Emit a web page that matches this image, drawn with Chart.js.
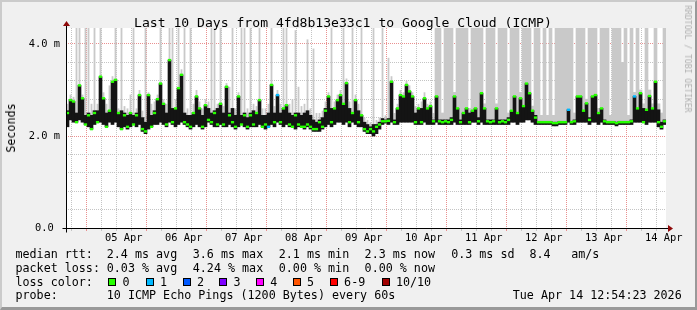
<!DOCTYPE html>
<html>
<head>
<meta charset="utf-8">
<title>Last 10 Days from 4fd8b13e33c1 to Google Cloud (ICMP)</title>
<script src="https://cdn.jsdelivr.net/npm/chart.js@4.4.1/dist/chart.umd.min.js"></script>
<style>
  html, body { margin: 0; padding: 0; background: #f0f0f0; }
  #wrap { position: relative; width: 697px; height: 310px; background: #f0f0f0; overflow: hidden;
          font-family: 'DejaVu Sans Mono', monospace; color: #000; }
  #graph { position: absolute; left: 0; top: 0; }
  #frame { position: absolute; left: 0; top: 0; right: 0; bottom: 0; pointer-events: none;
           border-top: 2px solid #cbcbcb; border-left: 2px solid #cbcbcb;
           border-right: 2px solid #999; border-bottom: 3px solid #999; }
  .t { position: absolute; white-space: pre; font-size: 11.7px; line-height: 14px; }
  #title { position: absolute; left: 134px; top: 15px; font-size: 13.1px; line-height: 15px; white-space: pre; }
  #ylab { position: absolute; left: 10.5px; top: 127.5px; font-size: 11.7px; line-height: 14px; white-space: pre;
          transform: translate(-50%, -50%) rotate(-90deg); }
  #mark { position: absolute; left: 687.5px; top: 59px; font-size: 8.1px; line-height: 10px; white-space: pre;
          color: #b0b0b0; transform: translate(-50%, -50%) rotate(90deg); }
  .box { position: absolute; width: 6px; height: 6px; border: 1px solid #000; }
</style>
</head>
<body>
<div id="wrap">
  <canvas id="graph" width="697" height="310"></canvas>
  <div id="title">Last 10 Days from 4fd8b13e33c1 to Google Cloud (ICMP)</div>
  <div id="ylab">Seconds</div>
  <div id="mark">RRDTOOL / TOBI OETIKER</div>
  <div id="legend"></div>
  <div id="frame"></div>
</div>
<script>
// --- данные (мс), один шаг = 72 минуты, 200 шагов на 10 дней ---
// нижняя граница тёмной полосы
const coreLow = [
  2.2, 2.35, 2.3, 2.3, 2.35, 2.3, 2.25, 2.2, 2.15, 2.25,
  2.3, 2.3, 2.25, 2.2, 2.3, 2.25, 2.3, 2.2, 2.15, 2.2,
  2.15, 2.2, 2.25, 2.2, 2.25, 2.1, 2.05, 2.15, 2.2, 2.25,
  2.25, 2.3, 2.25, 2.2, 2.3, 2.25, 2.2, 2.25, 2.3, 2.25,
  2.2, 2.15, 2.2, 2.25, 2.2, 2.15, 2.2, 2.3, 2.25, 2.2,
  2.2, 2.25, 2.2, 2.2, 2.25, 2.2, 2.15, 2.2, 2.25, 2.2,
  2.15, 2.2, 2.2, 2.2, 2.25, 2.2, 2.15, 2.2, 2.25, 2.2,
  2.3, 2.25, 2.2, 2.25, 2.2, 2.2, 2.15, 2.2, 2.2, 2.15,
  2.2, 2.15, 2.1, 2.1, 2.1, 2.15, 2.2, 2.25, 2.2, 2.25,
  2.3, 2.3, 2.25, 2.3, 2.2, 2.3, 2.25, 2.2, 2.2, 2.1,
  2.05, 2.05, 2.0, 2.05, 2.15, 2.25, 2.28, 2.25, 2.3, 2.25,
  2.25, 2.3, 2.3, 2.3, 2.3, 2.3, 2.25, 2.25, 2.25, 2.3,
  2.25, 2.25, 2.25, 2.3, 2.25, 2.25, 2.25, 2.25, 2.25, 2.3,
  2.25, 2.25, 2.25, 2.25, 2.25, 2.3, 2.3, 2.25, 2.3, 2.25,
  2.25, 2.25, 2.25, 2.25, 2.25, 2.25, 2.25, 2.25, 2.3, 2.3,
  2.25, 2.3, 2.3, 2.35, 2.35, 2.3, 2.25, 2.25, 2.25, 2.25,
  2.25, 2.25, 2.22, 2.22, 2.25, 2.25, 2.25, 2.3, 2.25, 2.25,
  2.3, 2.3, 2.3, 2.3, 2.25, 2.3, 2.3, 2.25, 2.3, 2.25,
  2.25, 2.25, 2.25, 2.22, 2.25, 2.25, 2.25, 2.25, 2.25, 2.3,
  2.3, 2.3, 2.3, 2.25, 2.3, 2.3, 2.3, 2.2, 2.15, 2.25
];
// верх тёмной полосы
const coreHigh = [
  2.55, 2.78, 2.75, 2.5, 3.1, 2.82, 2.45, 2.5, 2.45, 2.55,
  2.55, 3.29, 2.82, 2.5, 2.55, 3.18, 3.22, 2.5, 2.55, 2.5,
  2.45, 2.5, 2.45, 2.5, 2.89, 2.4, 2.3, 2.89, 2.45, 2.55,
  2.8, 3.14, 2.7, 2.5, 3.65, 2.6, 2.6, 3.04, 3.33, 2.5,
  2.45, 2.45, 2.5, 2.86, 2.6, 2.45, 2.67, 2.6, 2.5, 2.55,
  2.6, 2.7, 2.5, 3.07, 2.5, 2.6, 2.45, 2.86, 2.45, 2.5,
  2.4, 2.5, 2.55, 2.5, 2.78, 2.45, 2.45, 2.5, 3.11, 2.5,
  2.89, 2.5, 2.6, 2.67, 2.5, 2.45, 2.5, 2.5, 2.45, 2.5,
  2.55, 2.45, 2.35, 2.3, 2.35, 2.4, 2.6, 2.86, 2.6, 2.6,
  2.78, 2.89, 2.7, 3.15, 2.6, 2.5, 2.78, 2.55, 2.45, 2.3,
  2.25, 2.2, 2.25, 2.25, 2.3, 2.38, 2.35, 2.38, 3.18, 2.35,
  2.6, 2.89, 2.86, 3.11, 2.97, 2.86, 2.5, 2.6, 2.6, 2.82,
  2.6, 2.65, 2.35, 2.86, 2.35, 2.35, 2.35, 2.35, 2.4, 2.86,
  2.6, 2.35, 2.5, 2.6, 2.5, 2.55, 2.6, 2.4, 2.93, 2.6,
  2.35, 2.35, 2.35, 2.6, 2.35, 2.35, 2.35, 2.4, 2.55, 2.86,
  2.5, 2.82, 2.65, 3.14, 2.93, 2.55, 2.45, 2.32, 2.32, 2.32,
  2.32, 2.32, 2.3, 2.3, 2.32, 2.32, 2.32, 2.57, 2.32, 2.35,
  2.86, 2.86, 2.55, 2.71, 2.4, 2.86, 2.89, 2.5, 2.6, 2.35,
  2.32, 2.32, 2.32, 2.3, 2.32, 2.32, 2.32, 2.32, 2.35, 2.86,
  2.6, 2.93, 2.6, 2.57, 2.87, 2.6, 3.18, 2.57, 2.3, 2.35
];
// верх «дыма» (4.5 = выше края графика)
const smokeHigh = [
  2.7, 2.9, 2.85, 4.5, 4.5, 2.9, 4.5, 4.5, 2.7, 4.5,
  2.7, 4.5, 2.95, 2.7, 3.1, 3.3, 4.5, 2.6, 4.5, 2.65,
  2.6, 2.9, 4.5, 2.6, 3.0, 2.55, 4.5, 2.95, 2.7, 2.75,
  2.9, 4.5, 2.8, 2.7, 4.5, 4.5, 2.8, 4.5, 3.45, 4.5,
  2.6, 4.5, 2.7, 3.0, 2.75, 2.6, 2.8, 2.75, 4.5, 4.5,
  2.7, 4.5, 2.65, 3.15, 3.07, 4.5, 2.6, 2.95, 4.5, 4.5,
  2.6, 4.5, 2.7, 2.65, 4.5, 2.6, 2.6, 2.7, 4.5, 2.65,
  3.0, 2.7, 4.5, 4.5, 2.7, 2.8, 4.3, 3.07, 2.65, 2.7,
  4.1, 2.6, 3.9, 2.5, 2.5, 2.55, 2.75, 2.95, 4.5, 2.75,
  2.9, 3.0, 4.5, 3.25, 2.75, 4.5, 2.9, 2.7, 4.5, 2.4,
  2.35, 2.3, 4.5, 2.35, 2.4, 4.5, 2.45, 3.7, 3.3, 2.5,
  2.7, 3.0, 2.95, 3.2, 3.1, 2.95, 2.65, 2.7, 2.75, 2.95,
  2.7, 2.75, 2.5, 4.5, 4.5, 2.5, 4.5, 4.5, 4.5, 2.95,
  4.5, 4.5, 4.5, 4.5, 2.6, 4.5, 4.5, 4.5, 4.5, 2.7,
  4.5, 4.5, 4.5, 2.7, 4.5, 4.5, 4.5, 2.5, 4.5, 4.5,
  4.5, 2.95, 4.5, 4.5, 4.5, 2.65, 4.5, 4.5, 2.45, 4.5,
  2.45, 4.5, 2.45, 4.5, 4.5, 4.5, 4.5, 4.5, 4.5, 2.5,
  4.5, 4.5, 4.5, 2.8, 4.5, 4.5, 4.5, 2.6, 4.5, 4.5,
  4.5, 2.45, 4.5, 4.5, 4.5, 3.6, 4.5, 2.45, 4.5, 2.95,
  4.5, 3.0, 2.7, 4.5, 3.0, 2.7, 4.5, 2.7, 2.5, 4.5
];
// медиана (зелёные отметки)
const median = [
  2.5, 2.78, 2.75, 2.3, 3.1, 2.82, 2.25, 2.45, 2.15, 2.5,
  2.3, 3.29, 2.82, 2.2, 2.55, 3.18, 3.22, 2.5, 2.15, 2.45,
  2.2, 2.5, 2.25, 2.45, 2.89, 2.15, 2.1, 2.89, 2.2, 2.5,
  2.8, 3.14, 2.7, 2.25, 3.65, 2.3, 2.6, 3.04, 3.33, 2.3,
  2.25, 2.2, 2.5, 2.86, 2.6, 2.2, 2.67, 2.35, 2.3, 2.5,
  2.25, 2.7, 2.25, 3.07, 2.45, 2.3, 2.2, 2.86, 2.25, 2.45,
  2.2, 2.45, 2.25, 2.5, 2.78, 2.2, 2.25, 2.2, 3.11, 2.3,
  2.89, 2.3, 2.6, 2.67, 2.25, 2.2, 2.45, 2.25, 2.2, 2.2,
  2.25, 2.2, 2.15, 2.15, 2.3, 2.2, 2.55, 2.86, 2.3, 2.6,
  2.78, 2.89, 2.7, 3.15, 2.3, 2.5, 2.78, 2.3, 2.45, 2.15,
  2.1, 2.15, 2.1, 2.2, 2.25, 2.32, 2.32, 2.33, 3.18, 2.3,
  2.6, 2.89, 2.86, 3.11, 2.97, 2.86, 2.3, 2.6, 2.3, 2.82,
  2.6, 2.65, 2.32, 2.86, 2.32, 2.3, 2.32, 2.3, 2.35, 2.86,
  2.6, 2.3, 2.5, 2.6, 2.3, 2.55, 2.6, 2.32, 2.93, 2.6,
  2.32, 2.3, 2.32, 2.6, 2.3, 2.32, 2.3, 2.35, 2.55, 2.86,
  2.5, 2.82, 2.65, 3.14, 2.93, 2.55, 2.4, 2.3, 2.3, 2.3,
  2.3, 2.3, 2.28, 2.28, 2.3, 2.3, 2.3, 2.57, 2.3, 2.32,
  2.86, 2.86, 2.55, 2.71, 2.35, 2.86, 2.89, 2.5, 2.6, 2.32,
  2.3, 2.3, 2.3, 2.28, 2.3, 2.3, 2.3, 2.3, 2.32, 2.86,
  2.6, 2.93, 2.3, 2.57, 2.87, 2.6, 3.18, 2.3, 2.2, 2.32
];
// шаги с потерей 1 пакета
const lossOneSteps = [67, 70, 167, 189];
// с этого шага «дым» сплошной
const denseFrom = 123;

const steps = coreLow.map((_, i) => i);
const dayLabels = ['05 Apr', '06 Apr', '07 Apr', '08 Apr', '09 Apr', '10 Apr', '11 Apr', '12 Apr', '13 Apr', '14 Apr'];
const yTickLabels = ['0.0 ', '1.0 m', '2.0 m', '3.0 m', '4.0 m'];

// легенда
const rttStats = ['2.4 ms avg', '3.6 ms max', '2.1 ms min', '2.3 ms now', '0.3 ms sd'];
const lossStats = ['0.03 % avg', '4.24 % max', '0.00 % min', '0.00 % now'];
const lossLabels = ['0', '1', '2', '3', '4', '5', '6-9', '10/10'];
const lossColors = ['#26ff00', '#00b8ff', '#0059ff', '#7e00ff', '#ff00ff', '#ff5500', '#ff0000', '#a10000'];

// --- оси ---
const spanHours = 240;            // 10 дней
const firstMidnight = 11.094;     // 05 Apr 00:00 от начала (04 Apr 12:54:23)
const yMax = 200 / 46;            // 4.35 мс
const yGrid = [];
for (let k = 0; k <= 21; k++) yGrid.push(+(k * 0.2).toFixed(1));
const xGrid = [];
for (let v = firstMidnight - 6; v <= spanHours; v += 6) xGrid.push(v);

const MAJOR = '#e99090', MINOR = '#c4c4c4', SMOKE = '#c9c9c9';
const mono = 'DejaVu Sans Mono';

// --- легенда (HTML) ---
(() => {
  const leg = document.getElementById('legend');
  const put = (txt, x, y) => {
    const d = document.createElement('div');
    d.className = 't'; d.textContent = txt;
    d.style.left = x + 'px'; d.style.top = y + 'px';
    leg.appendChild(d);
  };
  const cols = [106.8, 192.8, 278.8, 364.6, 451.2];
  const rows = [247, 260.8, 274.6, 288.4];
  put('median rtt:', 15.5, rows[0]);
  rttStats.forEach((s, i) => put(s, cols[i], rows[0]));
  put('8.4', 529.5, rows[0]);
  put('am/s', 571.2, rows[0]);
  put('packet loss:', 15.5, rows[1]);
  lossStats.forEach((s, i) => put(s, cols[i], rows[1]));
  put('loss color:', 15.5, rows[2]);
  const boxX = [108.3, 145.6, 182.6, 219.3, 256, 292.7, 329.8, 381.6];
  lossLabels.forEach((s, i) => {
    const b = document.createElement('div');
    b.className = 'box';
    b.style.left = boxX[i] + 'px'; b.style.top = '278.3px';
    b.style.background = lossColors[i];
    leg.appendChild(b);
    put(s, boxX[i] + 14.3, rows[2]);
  });
  put('probe:', 15.5, rows[3]);
  put('10 ICMP Echo Pings (1200 Bytes) every 60s', 106.8, rows[3]);
  put('Tue Apr 14 12:54:23 2026', 512.8, rows[3]);
})();

// белое поле графика и стрелки осей
const plotFrame = {
  id: 'plotFrame',
  beforeDraw(chart) {
    const { ctx, chartArea: a } = chart;
    ctx.save();
    ctx.fillStyle = '#fff';
    ctx.fillRect(a.left, a.top, a.right - a.left, a.bottom - a.top);
    ctx.restore();
  },
  afterDraw(chart) {
    const { ctx, chartArea: a } = chart;
    const x0 = Math.round(a.left) + 0.5, y0 = Math.round(a.bottom) + 0.5;
    ctx.save();
    ctx.strokeStyle = '#000';
    ctx.lineWidth = 1;
    ctx.beginPath();
    ctx.moveTo(x0 - 4, y0); ctx.lineTo(a.right + 4, y0);
    ctx.moveTo(x0, y0 + 4); ctx.lineTo(x0, a.top - 3);
    ctx.stroke();
    ctx.fillStyle = '#8f0a0a';
    ctx.beginPath();
    ctx.moveTo(a.right + 2, y0 - 3.5); ctx.lineTo(a.right + 7, y0); ctx.lineTo(a.right + 2, y0 + 3.5);
    ctx.closePath(); ctx.fill();
    ctx.beginPath();
    ctx.moveTo(x0 - 3.5, a.top - 2); ctx.lineTo(x0, a.top - 7); ctx.lineTo(x0 + 3.5, a.top - 2);
    ctx.closePath(); ctx.fill();
    ctx.restore();
  }
};

const isMajorY = v => Math.abs(v - Math.round(v)) < 1e-6;
const smokeBar = (keep) => coreLow.map((v, i) => keep(i) ? [v, smokeHigh[i]] : null);

new Chart(document.getElementById('graph').getContext('2d'), {
  type: 'bar',
  data: {
    labels: steps,
    datasets: [
      {
        type: 'line', label: 'median rtt', data: median, order: 0,
        xAxisID: 'x', yAxisID: 'y', showLine: false,
        pointStyle: 'line', pointRadius: 1.6, pointHoverRadius: 1.6, pointBorderWidth: 2.4,
        pointBorderColor: c => lossOneSteps.includes(c.dataIndex) ? lossColors[1] : lossColors[0]
      },
      {
        label: 'core', data: coreLow.map((v, i) => [v, coreHigh[i]]), order: 1,
        xAxisID: 'x', yAxisID: 'y', grouped: false, barPercentage: 1, categoryPercentage: 1,
        backgroundColor: '#141414', borderWidth: 0
      },
      {
        label: 'smoke', data: smokeBar(i => i < denseFrom), order: 2,
        xAxisID: 'x', yAxisID: 'y', grouped: false, barPercentage: 0.6, categoryPercentage: 1,
        backgroundColor: SMOKE, borderWidth: 0, inflateAmount: 0
      },
      {
        label: 'smoke dense', data: smokeBar(i => i >= denseFrom), order: 3,
        xAxisID: 'x', yAxisID: 'y', grouped: false, barPercentage: 1, categoryPercentage: 1,
        backgroundColor: SMOKE, borderWidth: 0
      }
    ]
  },
  options: {
    responsive: false,
    animation: false,
    devicePixelRatio: 1,
    layout: { padding: { left: 0, right: 31, top: 28, bottom: 0 } },
    plugins: { legend: { display: false }, tooltip: { enabled: false }, title: { display: false } },
    scales: {
      x: { type: 'category', display: false, offset: true },
      xt: {
        type: 'linear', position: 'bottom', min: 0, max: spanHours, offset: false, z: 1,
        afterBuildTicks: s => { s.ticks = xGrid.map(v => ({ value: v })); },
        afterFit: s => { s.height = 82; },
        grid: {
          color: c => (c.index % 4 === 1) ? MAJOR : MINOR,
          tickColor: c => (c.index % 4 === 1) ? MAJOR : MINOR,
          tickLength: 3, lineWidth: 1
        },
        border: { display: false, dash: [1, 1] },
        ticks: {
          autoSkip: false, maxRotation: 0, minRotation: 0, padding: 1,
          color: '#000', font: { family: mono, size: 10.4 },
          callback: (v, i) => (i % 4 === 3) ? dayLabels[(i - 3) / 4] : ''
        }
      },
      y: {
        min: 0, max: yMax, z: 1,
        afterBuildTicks: s => { s.ticks = yGrid.map(v => ({ value: v })); },
        afterFit: s => { s.width = 66; },
        grid: { color: c => isMajorY(c.tick.value) ? MAJOR : MINOR, drawTicks: false, lineWidth: 1 },
        border: { display: false, dash: [1, 1] },
        ticks: {
          padding: 6, color: '#000', font: { family: mono, size: 10.4 },
          callback: v => isMajorY(v) ? yTickLabels[Math.round(v)] : ''
        }
      }
    }
  },
  plugins: [plotFrame]
});
</script>
</body>
</html>
